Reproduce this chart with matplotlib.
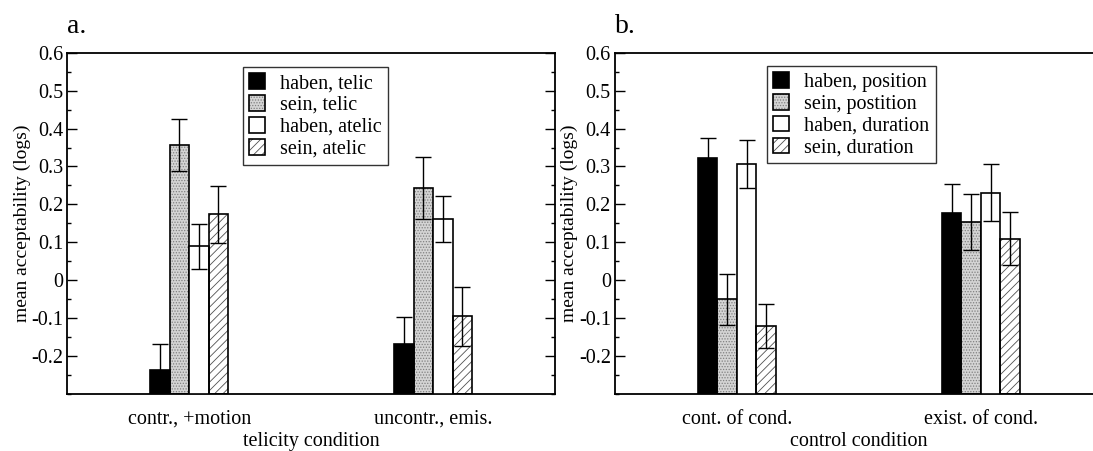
import matplotlib
matplotlib.use("Agg")
import matplotlib.pyplot as plt
import numpy as np
from matplotlib.ticker import FixedLocator, MultipleLocator

plt.rcParams['font.family'] = ['Liberation Serif', 'DejaVu Serif']
plt.rcParams['hatch.linewidth'] = 0.6

# ---- data ----
a_groups = ["contr., +motion", "uncontr., emis."]
a_series = ["haben, telic", "sein, telic", "haben, atelic", "sein, atelic"]
a_means = [[-0.238, -0.168], [0.356, 0.243], [0.089, 0.162], [0.174, -0.095]]
a_errs = [[0.071, 0.072], [0.068, 0.082], [0.060, 0.060], [0.075, 0.078]]
a_xlabel = "telicity condition"

b_groups = ["cont. of cond.", "exist. of cond."]
b_series = ["haben, position", "sein, postition", "haben, duration", "sein, duration"]
b_means = [[0.323, 0.176], [-0.050, 0.154], [0.307, 0.231], [-0.121, 0.110]]
b_errs = [[0.051, 0.079], [0.067, 0.073], [0.064, 0.075], [0.058, 0.069]]
b_xlabel = "control condition"

ylabel = "mean acceptability (logs)"
yticks = [-0.2, -0.1, 0.0, 0.1, 0.2, 0.3, 0.4, 0.5, 0.6]
yticklabels = ["-0.2", "-0.1", "0", "0.1", "0.2", "0.3", "0.4", "0.5", "0.6"]
panel_titles = ["a.", "b."]

# ---- styles ----
W, H = 1093, 451
FS = 14.5
styles = [
    dict(face="black", hatch=None, hcol=None),
    dict(face="#d4d4d4", hatch="......", hcol="#808080"),
    dict(face="white", hatch=None, hcol=None),
    dict(face="white", hatch="////", hcol="#505050"),
]
width = 0.08
offsets = [-1.5 * width, -0.5 * width, 0.5 * width, 1.5 * width]

fig = plt.figure(figsize=(W / 100, H / 100), dpi=100)


def px_axes(left, top, w, h):
    return fig.add_axes([left / W, 1 - (top + h) / H, w / W, h / H])


def draw_panel(ax, groups, series, means, errs, xlabel, title, leg_xy):
    x = np.arange(1, len(groups) + 1)
    handles = []
    ymin = -0.3
    for i, (s, m, e) in enumerate(zip(series, means, errs)):
        st = styles[i]
        xs = x + offsets[i]
        heights = np.array(m) - ymin
        if st["hatch"]:
            b1 = ax.bar(xs, heights, width, bottom=ymin, color=st["face"],
                        edgecolor=st["hcol"], hatch=st["hatch"], linewidth=0,
                        zorder=2)
            b2 = ax.bar(xs, heights, width, bottom=ymin, facecolor="none",
                        edgecolor="black", linewidth=1.2, zorder=3)
            handles.append((b1.patches[0], b2.patches[0]))
        else:
            b = ax.bar(xs, heights, width, bottom=ymin, color=st["face"],
                       edgecolor="black", linewidth=1.2, zorder=3)
            handles.append(b.patches[0])
        ax.errorbar(xs, m, yerr=e, fmt="none", ecolor="black", elinewidth=1.0,
                    capsize=6, capthick=1.0, zorder=4)
    ax.set_xlim(0.5, 2.5)
    ax.set_ylim(-0.3, 0.6)
    ax.yaxis.set_major_locator(FixedLocator(yticks))
    ax.set_yticklabels(yticklabels)
    ax.yaxis.set_minor_locator(MultipleLocator(0.05))
    ax.tick_params(axis="y", which="both", direction="in", left=True, right=True,
                   labelsize=FS, pad=3)
    ax.tick_params(axis="y", which="major", length=7, width=1)
    ax.tick_params(axis="y", which="minor", length=3.2, width=1)
    ax.set_xticks(x)
    ax.set_xticklabels(groups, fontsize=FS)
    ax.tick_params(axis="x", which="both", length=0, pad=11.5)
    ax.set_xlabel(xlabel, fontsize=FS, labelpad=2)
    ax.set_ylabel(ylabel, fontsize=14)
    ax.yaxis.set_label_coords(-0.075, 0.5)
    for sp in ax.spines.values():
        sp.set_linewidth(1.3)
    ax.text(0.0, 1 + 19.5 / 341.3, title, transform=ax.transAxes, fontsize=20,
            ha="left", va="baseline")
    leg = ax.legend(handles, series, loc="upper left",
                    bbox_to_anchor=(leg_xy[0] / W, 1 - leg_xy[1] / H),
                    bbox_transform=fig.transFigure, borderaxespad=0,
                    fontsize=FS, handlelength=0.82, handleheight=0.82,
                    handletextpad=0.75, labelspacing=0.1, borderpad=0.3,
                    fancybox=False, framealpha=1, edgecolor="#333333")
    leg.get_frame().set_linewidth(1.0)
    leg.set_zorder(5)


axA = px_axes(67.3, 52.7, 487.7, 341.3)
axB = px_axes(615.0, 52.7, 487.7, 341.3)
draw_panel(axA, a_groups, a_series, a_means, a_errs, a_xlabel, panel_titles[0], (242.7, 67.3))
draw_panel(axB, b_groups, b_series, b_means, b_errs, b_xlabel, panel_titles[1], (766.7, 66.0))

fig.savefig("out.png", dpi=100)
